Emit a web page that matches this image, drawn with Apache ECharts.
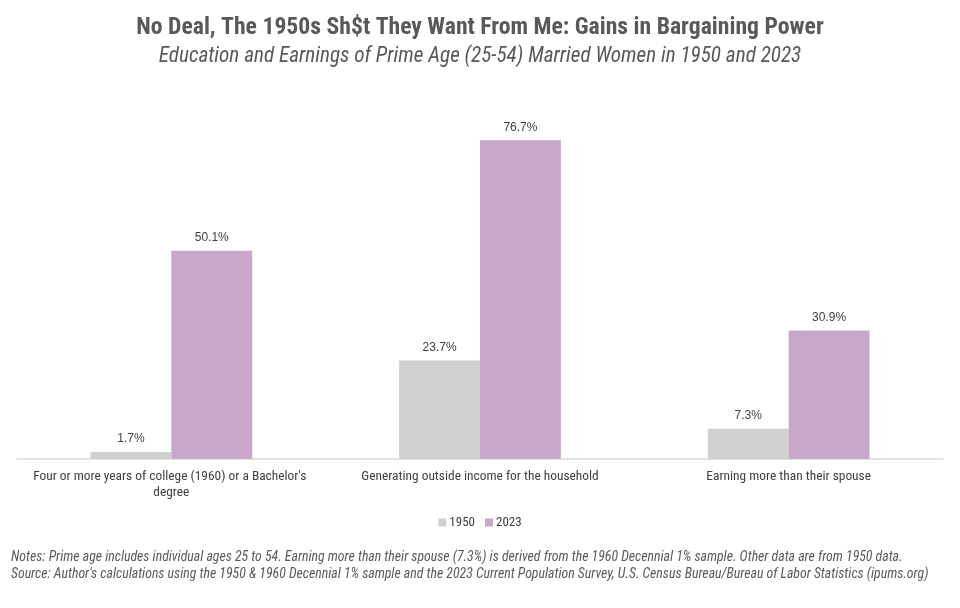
<!DOCTYPE html>
<html><head><meta charset="utf-8">
<script src="https://cdn.jsdelivr.net/npm/echarts@6/dist/echarts.min.js"></script>
<style>html,body{margin:0;padding:0;background:#fff}#c{width:960px;height:608px}</style>
</head><body><div id="c"></div>
<script>
const categories = ["Four or more years of college (1960) or a Bachelor's degree", "Generating outside income for the household", "Earning more than their spouse"];
const seriesNames = ["1950", "2023"];
const values1950 = [1.7, 23.7, 7.3];
const values2023 = [50.1, 76.7, 30.9];
const titleText = "No Deal, The 1950s Sh$t They Want From Me: Gains in Bargaining Power";
const subtitleText = "Education and Earnings of Prime Age (25-54) Married Women in 1950 and 2023";
const notesText = "Notes: Prime age includes individual ages 25 to 54. Earning more than their spouse (7.3%) is derived from the 1960 Decennial 1% sample. Other data are from 1950 data.";
const sourceText = "Source: Author's calculations using the 1950 & 1960 Decennial 1% sample and the 2023 Current Population Survey, U.S. Census Bureau/Bureau of Labor Statistics (ipums.org)";

const FONT = "'Liberation Sans Narrow', 'Roboto Condensed', 'Liberation Sans', sans-serif";
const chart = echarts.init(document.getElementById('c'), null, {renderer: 'canvas'});
const labelCfg = {show: true, position: 'top', distance: 7, color: '#404040', fontSize: 12, fontFamily: "'Liberation Sans', Arial, sans-serif", formatter: p => p.value.toFixed(1) + '%'};
chart.setOption({
  animation: false,
  backgroundColor: '#fff',
  title: [
    {text: titleText, left: 'center', top: 11, textStyle: {fontFamily: FONT, fontSize: 23.7, fontWeight: 'bold', color: '#595959'}},
    {text: subtitleText, left: 'center', top: 41, textStyle: {fontFamily: FONT, fontSize: 21.2, fontWeight: 'normal', fontStyle: 'italic', color: '#595959'}},
    {text: notesText + '\n' + sourceText, left: 6, top: 544, textStyle: {fontFamily: FONT, fontSize: 13.8, fontWeight: 'normal', fontStyle: 'italic', color: '#595959', lineHeight: 17}}
  ],
  legend: {data: seriesNames, left: 'center', top: 511, itemWidth: 8, itemHeight: 8, itemGap: 10, icon: 'rect',
    textStyle: {fontFamily: FONT, fontSize: 13, color: '#404040', padding: [0,0,0,-2]}},
  grid: {left: 17, right: 17, top: 85, bottom: 149, containLabel: false},
  xAxis: {type: 'category', data: categories,
    axisLine: {lineStyle: {color: '#D9D9D9', width: 1.5}}, axisTick: {show: false},
    axisLabel: {interval: 0, color: '#404040', fontFamily: FONT, fontSize: 13.4, margin: 10, width: 295, overflow: 'break', lineHeight: 16}},
  yAxis: {type: 'value', min: 0, max: 90, show: false, splitLine: {show: false}},
  series: [
    {name: seriesNames[0], type: 'bar', data: values1950, barGap: '0%', barCategoryGap: '47.6%', itemStyle: {color: '#D0D0D0'}, label: labelCfg},
    {name: seriesNames[1], type: 'bar', data: values2023, barGap: '0%', barCategoryGap: '47.6%', itemStyle: {color: '#C8A7CA'}, label: labelCfg}
  ]
});
</script></body></html>
